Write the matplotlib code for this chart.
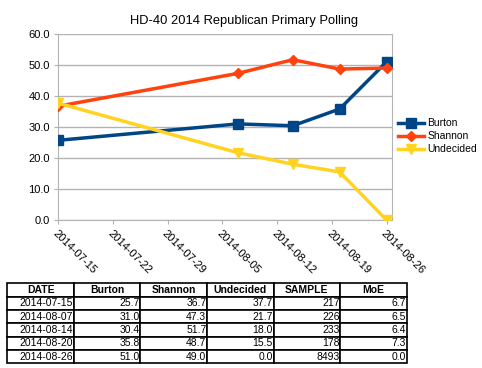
import numpy as np
import matplotlib
matplotlib.use('Agg')
import matplotlib.pyplot as plt
import matplotlib.dates as mdates
from datetime import datetime, timedelta

plt.rcParams['font.family'] = ['Liberation Sans', 'DejaVu Sans']

# poll data
dates = ['2014-07-15', '2014-08-07', '2014-08-14', '2014-08-20', '2014-08-26']
burton = [25.7, 31.0, 30.4, 35.8, 51.0]
shannon = [36.7, 47.3, 51.7, 48.7, 49.0]
undecided = [37.7, 21.7, 18.0, 15.5, 0.0]
sample = [217, 226, 233, 178, 8493]
moe = [6.7, 6.5, 6.4, 7.3, 0.0]

col_labels = ['DATE', 'Burton', 'Shannon', 'Undecided', 'SAMPLE', 'MoE']
tick_dates = ['2014-07-15', '2014-07-22', '2014-07-29', '2014-08-05',
              '2014-08-12', '2014-08-19', '2014-08-26']

W, H = 482, 368
fig = plt.figure(figsize=(W / 100, H / 100), dpi=100)

ax = fig.add_axes([58 / W, 1 - 220 / H, (392 - 58) / W, (220 - 34) / H])

x = [datetime.strptime(d, '%Y-%m-%d') for d in dates]
xt = [datetime.strptime(d, '%Y-%m-%d') for d in tick_dates]

grid_col = '#b3b3b3'
ax.plot(x, burton, color='#004586', lw=2.5, marker='s', ms=7, label='Burton', zorder=3)
ax.plot(x, shannon, color='#ff420e', lw=2.5, marker='D', ms=5, label='Shannon', zorder=3)
ax.plot(x, undecided, color='#ffd320', lw=2.5, marker='v', ms=7, label='Undecided', zorder=3)

ax.set_ylim(0, 60)
ax.set_yticks(np.arange(0, 61, 10))
ax.set_yticklabels(['%.1f' % v for v in np.arange(0, 61, 10)], fontsize=8)
ax.set_xlim(xt[0], xt[-1] + timedelta(days=0.7))
ax.set_xticks(xt)
ax.set_xticklabels(tick_dates, rotation=-45, ha='left', rotation_mode='anchor', fontsize=8)
ax.yaxis.grid(True, color=grid_col, lw=1)
ax.set_axisbelow(True)
for s in ax.spines.values():
    s.set_color(grid_col)
ax.spines['top'].set_visible(False)
ax.tick_params(axis='both', color=grid_col, length=3, pad=3)

# title is centred on the whole picture, not the plot area
fig.text(244 / W, 1 - 21 / H, 'HD-40 2014 Republican Primary Polling',
         fontsize=9.3, ha='center', va='center')

leg = ax.legend(loc='center left', bbox_to_anchor=(1.0, 0.45), frameon=False,
                fontsize=7.5, handlelength=2.5, handletextpad=0.3, labelspacing=0.3,
                borderaxespad=0.2)

# table under the chart
cells = []
for i in range(len(dates)):
    cells.append([dates[i], '%.1f' % burton[i], '%.1f' % shannon[i],
                  '%.1f' % undecided[i], str(sample[i]), '%.1f' % moe[i]])

tax = fig.add_axes([7.3 / W, 1 - 363.3 / H, (406.7 - 7.3) / W, (363.3 - 283.3) / H])
tax.axis('off')
tab = tax.table(cellText=cells, colLabels=col_labels, cellLoc='right',
                colLoc='center', bbox=[0, 0, 1, 1])
tab.auto_set_font_size(False)
for (r, c), cell in tab.get_celld().items():
    cell.set_edgecolor('black')
    cell.set_linewidth(1.2)
    cell.PAD = 0.01
    cell.get_text().set_fontsize(7.5)
    if r == 0:
        cell.get_text().set_fontweight('bold')

fig.savefig('out.png', dpi=100)
